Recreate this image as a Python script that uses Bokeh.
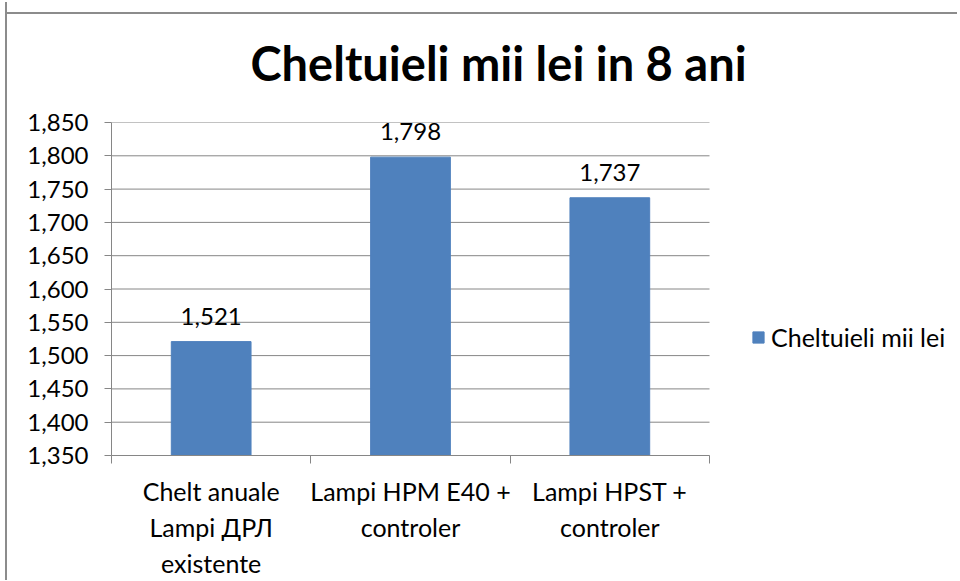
from bokeh.plotting import figure
from bokeh.models import (ColumnDataSource, FixedTicker, NumeralTickFormatter,
                          Legend, LegendItem, Range1d)
from bokeh.embed import file_html
from bokeh.resources import INLINE
from bokeh.core.properties import value

# ---- data ----
categories = ["Chelt anuale\nLampi ДРЛ\nexistente",
              "Lampi HPM E40 +\ncontroler",
              "Lampi HPST +\ncontroler"]
values = [1521, 1798, 1737]
series_name = "Cheltuieli mii lei"
title_text = "Cheltuieli mii lei in 8 ani"
y_ticks = [1350, 1400, 1450, 1500, 1550, 1600, 1650, 1700, 1750, 1800, 1850]

FONT = "Lato"
GRAY = "#868686"
BLUE = "#4F81BD"

# ---- layout (pixels) ----
W, H = 952, 578
ML, MT, MB = 104, 120, 123
FRAME_R = 702          # where the category area ends, in canvas pixels
N = len(categories)
x_end = N * (W - ML) / (FRAME_R - ML)   # frame extends to the right edge (room for legend)

xs = [i + 0.5 for i in range(N)]
src = ColumnDataSource(dict(x=xs, top=values, lab=[f"{v:,}" for v in values]))
grid_src = ColumnDataSource(dict(y=y_ticks))

p = figure(width=W, height=H, output_backend="svg", toolbar_location=None,
           x_range=Range1d(0, x_end), y_range=Range1d(y_ticks[0], y_ticks[-1]),
           min_border_left=ML, min_border_right=0, min_border_top=MT,
           min_border_bottom=MB)
p.styles = {"border-left": "2px solid #8c8c8c",
            "margin-left": "5px", "margin-top": "2px",
            "background": "linear-gradient(#8c8c8c, #8c8c8c) 0 10px / 100% 2px no-repeat"}
p.outline_line_color = None
p.background_fill_color = "white"
p.border_fill_alpha = 0
p.xgrid.grid_line_color = None
p.ygrid.grid_line_color = None

# horizontal gridlines limited to the category area
p.segment(x0=0, x1=N, y0="y", y1="y", source=grid_src, line_color=GRAY,
          line_width=1, level="underlay")

bars = p.vbar(x="x", top="top", bottom=y_ticks[0], width=0.4, source=src,
              fill_color=BLUE, line_color=BLUE)
p.text(x="x", y="top", text="lab", source=src, y_offset=-17,
       text_align="center", text_baseline="bottom", text_font=value(FONT),
       text_font_size="24px", text_color="black")

# title
p.title.text = title_text
p.title.align = "left"
p.title.vertical_align = "top"
p.title.offset = 139
p.title.standoff = 60
p.title.text_font = FONT
p.title.text_font_size = "47px"
p.title.text_font_style = "bold"
p.title.text_color = "black"

# y axis
p.yaxis.ticker = FixedTicker(ticks=y_ticks)
p.yaxis.formatter = NumeralTickFormatter(format="0,0")
p.yaxis.axis_line_color = GRAY
p.yaxis.major_tick_line_color = GRAY
p.yaxis.major_tick_out = 7
p.yaxis.major_tick_in = 0
p.yaxis.minor_tick_line_color = None
p.yaxis.major_label_standoff = 16
p.yaxis.major_label_text_font = FONT
p.yaxis.major_label_text_font_size = "24px"
p.yaxis.major_label_text_color = "black"

# x axis
p.xaxis.bounds = (0, N)
p.xaxis.ticker = FixedTicker(ticks=xs, minor_ticks=list(range(N + 1)))
p.xaxis.major_label_overrides = {x: c for x, c in zip(xs, categories)}
p.xaxis.axis_line_color = GRAY
p.xaxis.major_tick_line_color = None
p.xaxis.major_tick_out = 0
p.xaxis.major_tick_in = 0
p.xaxis.minor_tick_line_color = GRAY
p.xaxis.minor_tick_out = 8
p.xaxis.minor_tick_in = 0
p.xaxis.major_label_standoff = 12
p.xaxis.major_label_text_font = FONT
p.xaxis.major_label_text_font_size = "25px"
p.xaxis.major_label_text_color = "black"

legend = Legend(items=[LegendItem(label=series_name, renderers=[bars])],
                location=(640, 103), border_line_color=None, background_fill_alpha=0,
                padding=0, margin=0, glyph_width=14, glyph_height=14, label_standoff=6,
                label_text_font=FONT, label_text_font_size="25px", label_text_color="black")
p.add_layout(legend)

open("out.html", "w").write(file_html(p, INLINE))
